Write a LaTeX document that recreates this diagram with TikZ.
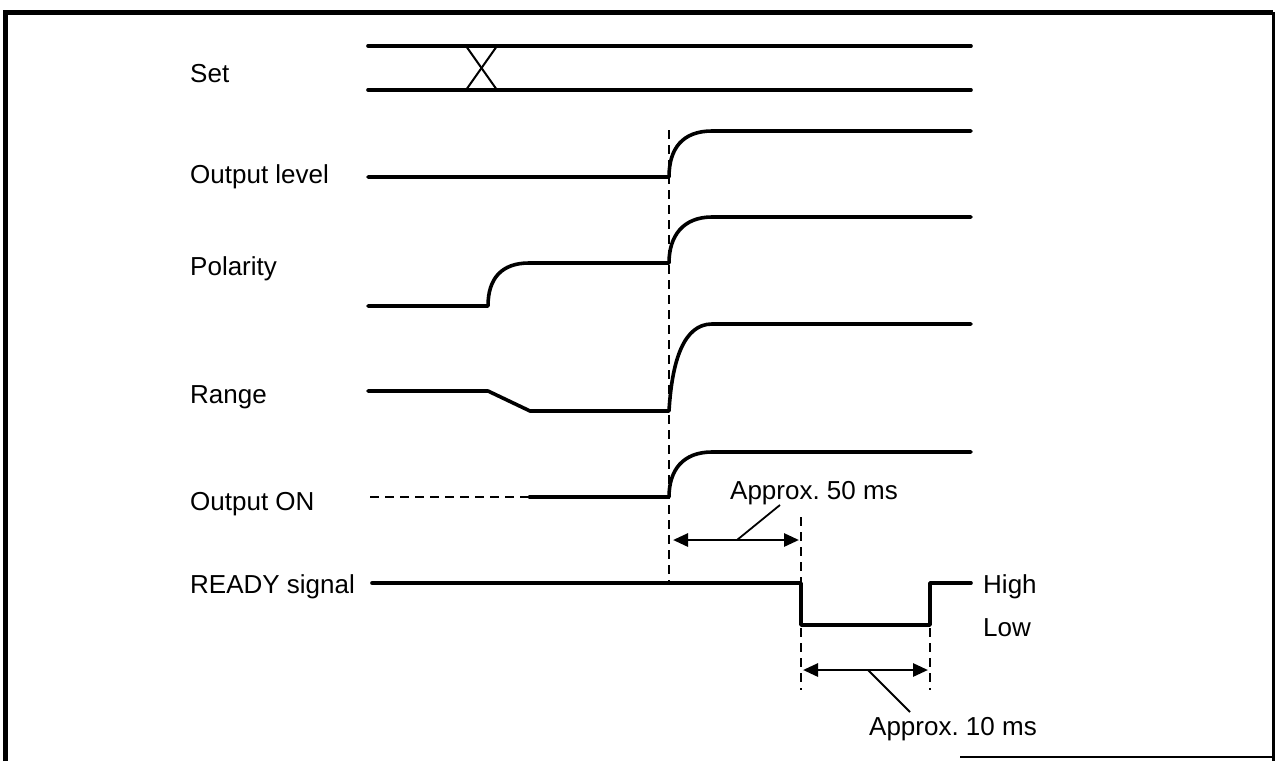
\documentclass[tikz,border=0pt]{standalone}
\usepackage{fontspec}
\setmainfont{Liberation Sans}
\usetikzlibrary{arrows.meta}
\begin{document}
\frenchspacing
\begin{tikzpicture}[x=1pt,y=-1pt,
  sig/.style={line width=3.6pt,line cap=round,line join=round},
  thinsig/.style={line width=2pt},
  guide/.style={line width=1.6pt,dash pattern=on 9pt off 6pt},
  dim/.style={line width=2.8pt,{Triangle[length=15pt,width=13pt]}-{Triangle[length=15pt,width=13pt]}},
  leader/.style={line width=1.8pt},
  lbl/.style={anchor=base west,inner sep=0pt,font=\fontsize{26}{31}\selectfont},
  note/.style={inner sep=0pt,font=\fontsize{26}{31}\selectfont}]
\useasboundingbox (0,0) rectangle (1276,761);
% frame
\draw[line width=5pt] (5,761) -- (5,12) -- (1273,12);
\draw[line width=3pt] (1273,12) -- (1273,761);
\draw[line width=1.2pt] (960,757) -- (1273,757);
% labels
\node[lbl] (lset) at (190,82) {Set};
\node[lbl] (lout) at (190,183) {Output level};
\node[lbl] (lpol) at (190,275) {Polarity};
\node[lbl] (lrng) at (190,403) {Range};
\node[lbl] (lon) at (190,510) {Output ON};
\node[lbl] (lrdy) at (190,593) {READY signal};
\node[lbl] (lhigh) at (983,593) {High};
\node[lbl] (llow) at (983,636) {Low};
\node[note] (l50) at (814,493) {Approx. 50 ms};
\node[note] (l10) at (953,729) {Approx. 10 ms};
% Set
\coordinate (xa) at (466,46);
\coordinate (xb) at (497,46);
\coordinate (xc) at (466,90);
\coordinate (xd) at (497,90);
\draw[sig] (368,46) -- (971,46);
\draw[sig] (368,90) -- (971,90);
\draw[thinsig] (xa) -- (xd);
\draw[thinsig] (xb) -- (xc);
% Output level
\draw[sig] (368,177) -- (669,177) .. controls (669,148) and (683,131) .. (712,131) -- (971,131);
% Polarity
\draw[sig] (368,306) -- (488,306) .. controls (488,278) and (502,263) .. (529,263) -- (669,263)
  .. controls (669,236) and (683,217) .. (712,217) -- (971,217);
% Range
\draw[sig] (368,391) -- (488,391) -- (530,411) -- (669,411)
  .. controls (672,360) and (684,324) .. (712,324) -- (971,324);
% Output ON
\draw[guide,line width=2pt] (370,497) -- (529,497);
\draw[sig] (529,497) -- (669,497) .. controls (669,470) and (683,452) .. (712,452) -- (971,452);
% READY
\draw[sig] (372,583) -- (801,583) -- (801,625) -- (930,625) -- (930,583) -- (971,583);
% guides
\coordinate (g1t) at (669,130);
\coordinate (g1b) at (669,582);
\coordinate (g2t) at (801,517);
\coordinate (g2b) at (801,582);
\coordinate (g3t) at (801,628);
\coordinate (g3b) at (801,690);
\coordinate (g4t) at (930,628);
\coordinate (g4b) at (930,690);
\draw[guide] (g1t) -- (g1b);
\draw[guide] (g2t) -- (g2b);
\draw[guide] (g3t) -- (g3b);
\draw[guide] (g4t) -- (g4b);
% dimensions
\coordinate (d1a) at (673,540);
\coordinate (d1b) at (799,540);
\draw[dim] (d1a) -- (d1b);
\coordinate (k1) at (737,540);
\draw[leader] (k1) -- (l50.south -| 780,0);
\coordinate (d2a) at (803,670);
\coordinate (d2b) at (928,670);
\draw[dim] (d2a) -- (d2b);
\coordinate (k2) at (868,670);
\draw[leader] (k2) -- (910,712);
\end{tikzpicture}
\end{document}
